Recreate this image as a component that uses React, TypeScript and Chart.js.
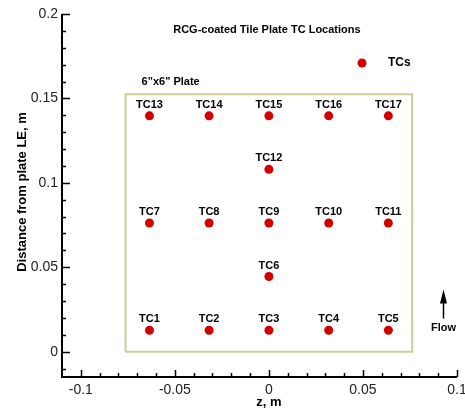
import React, { useEffect, useRef } from "react";
import { Chart, registerables } from "chart.js";

Chart.register(...registerables);

const tcLabels = ["TC1","TC2","TC3","TC4","TC5","TC6","TC7","TC8","TC9","TC10","TC11","TC12","TC13","TC14","TC15","TC16","TC17"];
const tcZ = [-0.0635,-0.0318,0,0.0318,0.0635, 0, -0.0635,-0.0318,0,0.0318,0.0635, 0, -0.0635,-0.0318,0,0.0318,0.0635];
const tcY = [0.0127,0.0127,0.0127,0.0127,0.0127, 0.0445, 0.0762,0.0762,0.0762,0.0762,0.0762, 0.108, 0.1397,0.1397,0.1397,0.1397,0.1397];

const plateZ = [-0.0762, 0.0762, 0.0762, -0.0762, -0.0762];
const plateY = [0, 0, 0.1524, 0.1524, 0];

const xTicks = [-0.1, -0.05, 0, 0.05, 0.1];
const yTicks = [0, 0.05, 0.1, 0.15, 0.2];
const xMinor = [-0.09,-0.08,-0.07,-0.06,-0.04,-0.03,-0.02,-0.01,0.01,0.02,0.03,0.04,0.06,0.07,0.08,0.09];
const yMinor = [-0.01,0.01,0.02,0.03,0.04,0.06,0.07,0.08,0.09,0.11,0.12,0.13,0.14,0.16,0.17,0.18,0.19];

const FONT = "'Liberation Sans', Arial, Helvetica, sans-serif";
const RED = "#d40000";

const decor = {
  id: "decor",
  afterDraw(chart: any) {
    const ctx = chart.ctx;
    const xs = chart.scales.x;
    const ys = chart.scales.y;
    const ca = chart.chartArea;
    ctx.save();
    // axes
    ctx.strokeStyle = "#000";
    ctx.lineWidth = 2;
    ctx.beginPath();
    ctx.moveTo(ca.left, ca.top);
    ctx.lineTo(ca.left, ca.bottom);
    ctx.lineTo(ca.right, ca.bottom);
    ctx.stroke();
    ctx.lineWidth = 1.5;
    ctx.beginPath();
    yTicks.forEach((v) => {
      const p = Math.round(ys.getPixelForValue(v)) + 0.5;
      ctx.moveTo(ca.left, p);
      ctx.lineTo(ca.left + 8, p);
    });
    yMinor.forEach((v) => {
      const p = Math.round(ys.getPixelForValue(v)) + 0.5;
      ctx.moveTo(ca.left, p);
      ctx.lineTo(ca.left + 4, p);
    });
    xTicks.forEach((v) => {
      const p = Math.round(xs.getPixelForValue(v)) + 0.5;
      ctx.moveTo(p, ca.bottom);
      ctx.lineTo(p, ca.bottom - 7);
    });
    xMinor.forEach((v) => {
      const p = Math.round(xs.getPixelForValue(v)) + 0.5;
      ctx.moveTo(p, ca.bottom);
      ctx.lineTo(p, ca.bottom - 4);
    });
    ctx.stroke();

    // axis titles
    ctx.fillStyle = "#000";
    ctx.font = `bold 13px ${FONT}`;
    ctx.textAlign = "center";
    ctx.textBaseline = "middle";
    ctx.fillText("z, m", xs.getPixelForValue(0), 402);
    ctx.save();
    ctx.translate(22, 192);
    ctx.rotate(-Math.PI / 2);
    ctx.fillText("Distance from plate LE, m", 0, 0);
    ctx.restore();

    // TC labels
    ctx.font = `bold 11px ${FONT}`;
    const meta = chart.getDatasetMeta(1);
    meta.data.forEach((pt: any, i: number) => {
      ctx.fillText(tcLabels[i], pt.x, pt.y - 11);
    });

    // title
    ctx.font = `bold 11px ${FONT}`;
    ctx.fillText("RCG-coated Tile Plate TC Locations", xs.getPixelForValue(0) - 2, ys.getPixelForValue(0.1904));

    // plate label
    ctx.textAlign = "left";
    ctx.fillText('6"x6" Plate', xs.getPixelForValue(-0.0677), ys.getPixelForValue(0.160));

    // legend
    const lx = xs.getPixelForValue(0.0495);
    const ly = ys.getPixelForValue(0.171);
    ctx.fillStyle = RED;
    ctx.beginPath();
    ctx.arc(lx, ly, 4.5, 0, Math.PI * 2);
    ctx.fill();
    ctx.fillStyle = "#000";
    ctx.font = `bold 12px ${FONT}`;
    ctx.fillText("TCs", lx + 26, ly);

    // flow arrow
    const ax = Math.round(xs.getPixelForValue(0.0924)) + 0.5;
    const tip = ys.getPixelForValue(0.0368);
    const base = ys.getPixelForValue(0.0196);
    ctx.strokeStyle = "#000";
    ctx.lineWidth = 1.5;
    ctx.beginPath();
    ctx.moveTo(ax, tip + 8);
    ctx.lineTo(ax, base);
    ctx.stroke();
    ctx.beginPath();
    ctx.moveTo(ax, tip);
    ctx.lineTo(ax - 3.5, tip + 14);
    ctx.lineTo(ax + 3.5, tip + 14);
    ctx.closePath();
    ctx.fill();
    ctx.font = `bold 11px ${FONT}`;
    ctx.textAlign = "center";
    ctx.fillText("Flow", ax, ys.getPixelForValue(0.0142));
    ctx.restore();
  },
};

export default function App() {
  const ref = useRef<HTMLCanvasElement | null>(null);
  useEffect(() => {
    if (!ref.current) return;
    const chart = new Chart(ref.current, {
      type: "scatter",
      data: {
        datasets: [
          {
            label: "plate",
            data: plateZ.map((x, i) => ({ x, y: plateY[i] })),
            showLine: true,
            borderColor: "#cccc99",
            borderWidth: 2,
            pointRadius: 0,
            fill: false,
          } as any,
          {
            label: "TCs",
            data: tcZ.map((x, i) => ({ x, y: tcY[i] })),
            backgroundColor: RED,
            borderColor: RED,
            borderWidth: 0,
            pointRadius: 4.5,
          },
        ],
      },
      options: {
        animation: false,
        responsive: false,
        maintainAspectRatio: false,
        layout: { padding: { top: 14, right: 8, left: 0, bottom: 0 } },
        plugins: { legend: { display: false }, tooltip: { enabled: false }, title: { display: false } },
        scales: {
          x: {
            type: "linear",
            min: -0.11,
            max: 0.1,
            grid: { display: false, drawTicks: false },
            border: { display: false },
            afterBuildTicks: (s: any) => { s.ticks = xTicks.map((v) => ({ value: v })); },
            afterFit: (s: any) => { s.height = 32; s.paddingLeft = 0; s.paddingRight = 0; },
            ticks: {
              padding: 5,
              color: "#222",
              font: { family: FONT, size: 14 },
              maxRotation: 0,
              autoSkip: false,
              callback: (v: any) => String(Number(v)),
            },
          },
          y: {
            type: "linear",
            min: -0.015,
            max: 0.2,
            grid: { display: false, drawTicks: false },
            border: { display: false },
            afterBuildTicks: (s: any) => { s.ticks = yTicks.map((v) => ({ value: v })); },
            afterFit: (s: any) => { s.width = 62; s.paddingTop = 0; s.paddingBottom = 0; },
            ticks: {
              padding: 4,
              color: "#222",
              font: { family: FONT, size: 14 },
              autoSkip: false,
              callback: (v: any) => String(Number(v)),
            },
          },
        },
      },
      plugins: [decor],
    });
    return () => chart.destroy();
  }, []);
  return (
    <div style={{ position: "absolute", left: 0, top: 0, width: 465, height: 409, background: "#fff" }}>
      <canvas ref={ref} width={465} height={409} style={{ width: 465, height: 409 }} />
    </div>
  );
}
